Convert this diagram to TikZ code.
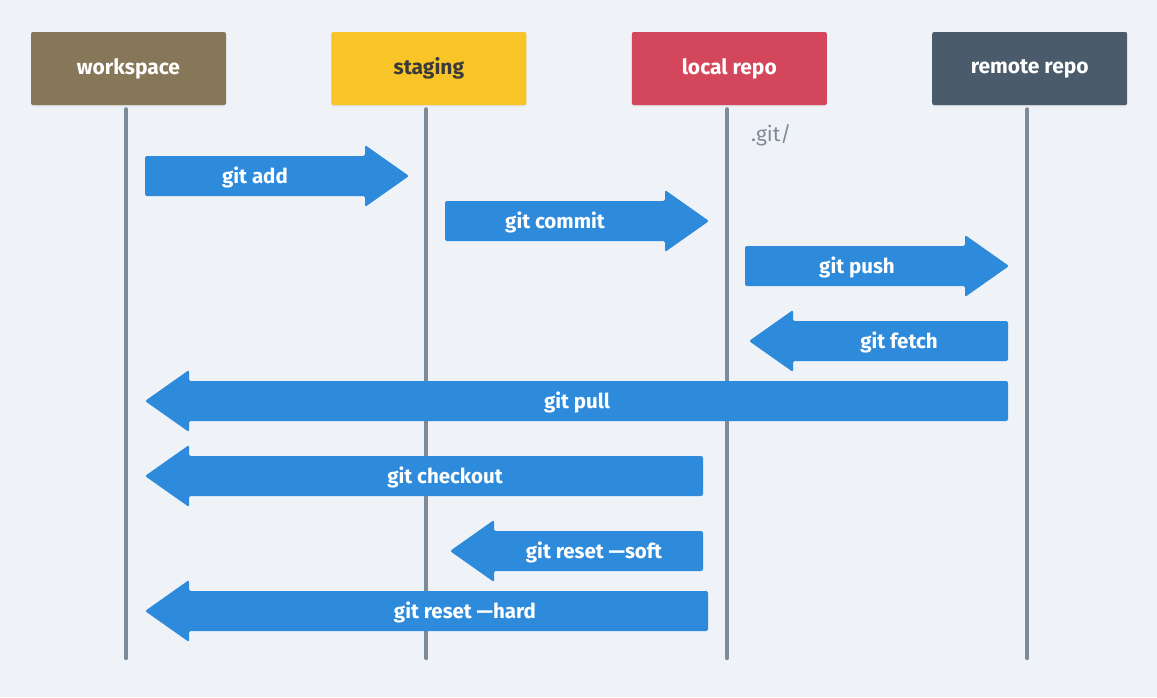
\documentclass[tikz,border=0pt]{standalone}
\usepackage{fontspec}
\setmainfont{Fira Sans}
\usepackage{tikz}
\usetikzlibrary{positioning,shadows}

\definecolor{bgcol}{HTML}{EFF3F8}
\definecolor{wscol}{HTML}{867758}
\definecolor{stcol}{HTML}{F8C427}
\definecolor{lrcol}{HTML}{D4465B}
\definecolor{rrcol}{HTML}{4A5B6B}
\definecolor{lifecol}{HTML}{7D8B99}
\definecolor{flowcol}{HTML}{2E8ADB}
\definecolor{darktxt}{HTML}{3A3A3A}

% fat arrow: name, tail x, tip x, y, label x, label
\newcommand{\gitflow}[6]{%
  \pgfmathsetmacro{\hb}{#3-44*sign(#3-#2)}
  \fill[flow] (#2,#4-20) -- (\hb,#4-20) -- (\hb,#4-31) -- (#3,#4)
    -- (\hb,#4+31) -- (\hb,#4+20) -- (#2,#4+20) -- cycle;
  \node[flowtxt] (#1) at (#5,#4+1.5) {#6};
}

\begin{document}
\begin{tikzpicture}[
  x=1pt, y=-1pt, font=\fontsize{21}{23}\selectfont,
  hdr/.style={rounded corners=2pt, minimum width=195pt, minimum height=73pt,
    inner sep=0pt, text=white, font=\fontsize{21}{23}\selectfont\bfseries,
    drop shadow={opacity=0.12, shadow xshift=0pt, shadow yshift=-1.5pt}},
  life/.style={draw=lifecol, line width=4pt, line cap=round},
  flow/.style={fill=flowcol, rounded corners=2pt},
  flowtxt/.style={text=white, inner sep=0pt, font=\fontsize{20.5}{22}\selectfont\bfseries}
]
\fill[bgcol] (0,0) rectangle (1157,697);

\node[hdr, fill=wscol] (ws) at (128.5,68.5) {workspace};
\node[hdr, fill=stcol, text=darktxt, right=105pt of ws] (stg) {staging};
\node[hdr, fill=lrcol, right=105pt of stg] (loc) {local repo};
\node[hdr, fill=rrcol, right=105pt of loc] (rem) {remote repo};

\foreach \n in {ws,stg,loc,rem}
  \draw[life] ([xshift=-2.5pt,yshift=-4pt]\n.south) -- ++(0,549);

\node[text=lifecol, anchor=west, inner sep=0pt] (gitdir) at (751,135) {.git/};

\gitflow{add}{145}{409}{176}{255}{git add}
\gitflow{commit}{445}{709}{221}{555}{git commit}
\gitflow{push}{745}{1009}{266}{857}{git push}
\gitflow{fetch}{1008}{749}{341}{899}{git fetch}
\gitflow{pull}{1008}{145}{401}{577}{git pull}
\gitflow{checkout}{703}{145}{476}{445}{git checkout}
\gitflow{soft}{703}{450}{551}{594}{git reset —soft}
\gitflow{hard}{708}{145}{611}{465}{git reset —hard}
\end{tikzpicture}
\end{document}
